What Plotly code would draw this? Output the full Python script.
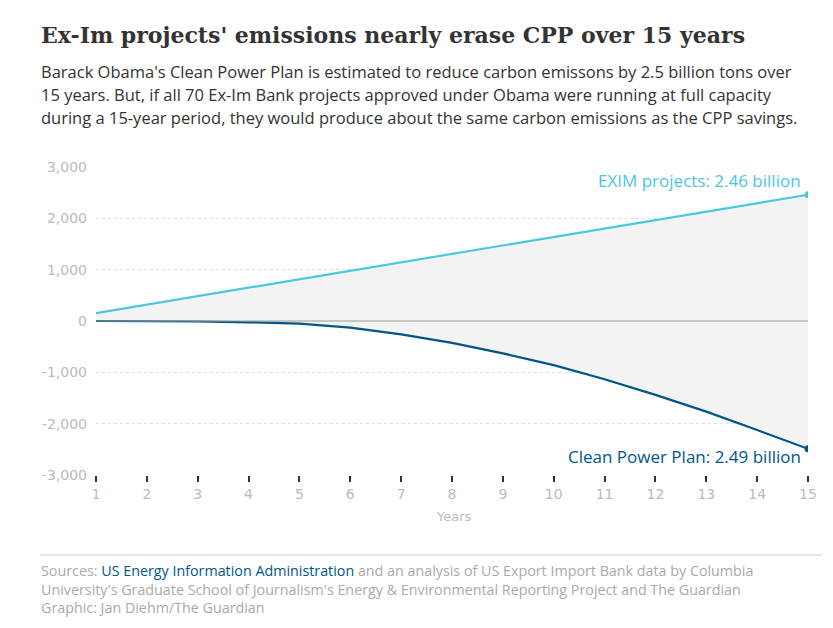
import plotly.graph_objects as go

years = list(range(1, 16))
exim = [155, 320, 485, 650, 815, 980, 1145, 1310, 1475, 1640, 1805, 1970, 2135, 2300, 2460]
cpp = [0, 0, -10, -25, -50, -130, -260, -425, -630, -860, -1135, -1440, -1765, -2125, -2490]
y_ticks = [-3000, -2000, -1000, 0, 1000, 2000, 3000]
y_tick_text = ["-3,000", "-2,000", "-1,000", "0", "1,000", "2,000", "3,000"]

title = "Ex-Im projects' emissions nearly erase CPP over 15 years"
subtitle = [
    "Barack Obama's Clean Power Plan is estimated to reduce carbon emissons by 2.5 billion tons over",
    "15 years. But, if all 70 Ex-Im Bank projects approved under Obama were running at full capacity",
    "during a 15-year period, they would produce about the same carbon emissions as the CPP savings.",
]
footer = [
    "Sources: <span style='color:#005689'>US Energy Information Administration</span> and an analysis of US Export Import Bank data by Columbia",
    "University's Graduate School of Journalism's Energy & Environmental Reporting Project and The Guardian",
    "Graphic: Jan Diehm/The Guardian",
]

W, H = 833, 628
OFF = 8  # page body margin
# plot area in reference (window) coordinates
PX0, PX1, PY0, PY1 = 96, 808, 167, 475
L = PX0 - OFF
T = PY0 - OFF
R = W - (PX1 - OFF)
B = H - (PY1 - OFF)
PW, PH = PX1 - PX0, PY1 - PY0

def px(x):
    return (x - PX0) / PW

def py(y):
    return (PY1 - y) / PH

EXIM_C = "#4bc6df"
CPP_C = "#005689"

fig = go.Figure()
fig.add_trace(go.Scatter(x=years, y=cpp, mode="lines", line=dict(color=CPP_C, width=2.2),
                         hoverinfo="skip", showlegend=False))
fig.add_trace(go.Scatter(x=years, y=exim, mode="lines", line=dict(color=EXIM_C, width=2.2),
                         fill="tonexty", fillcolor="#f3f3f3", hoverinfo="skip", showlegend=False))
fig.add_trace(go.Scatter(x=[years[-1]], y=[exim[-1]], mode="markers",
                         marker=dict(color=EXIM_C, size=7), hoverinfo="skip", showlegend=False))
fig.add_trace(go.Scatter(x=[years[-1]], y=[cpp[-1]], mode="markers",
                         marker=dict(color=CPP_C, size=7), hoverinfo="skip", showlegend=False))

fig.add_hline(y=0, line=dict(color="#999999", width=1), layer="above")

ann = []
ann.append(dict(text=title, x=px(39), y=py(35), xref="paper", yref="paper", xanchor="left",
                yanchor="middle", showarrow=False,
                font=dict(family="DejaVu Serif", size=22, color="#333333", weight="bold")))
for i, line in enumerate(subtitle):
    ann.append(dict(text=line, x=px(39), y=py(72 + 23 * i), xref="paper", yref="paper",
                    xanchor="left", yanchor="middle", showarrow=False,
                    font=dict(family="Open Sans", size=16.5, color="#333333")))
ann.append(dict(text="<br>".join(footer), x=px(39), y=py(589), xref="paper", yref="paper",
                xanchor="left", yanchor="middle", align="left", showarrow=False,
                font=dict(family="Open Sans", size=14.3, color="#aaaaaa")))
ann.append(dict(text="EXIM projects: 2.46 billion", x=px(803), y=py(180), xref="paper", yref="paper",
                xanchor="right", yanchor="middle", showarrow=False,
                font=dict(family="Open Sans", size=17, color=EXIM_C)))
ann.append(dict(text="Clean Power Plan: 2.49 billion", x=px(803), y=py(456), xref="paper", yref="paper",
                xanchor="right", yanchor="middle", showarrow=False,
                font=dict(family="Open Sans", size=17, color=CPP_C)))
ann.append(dict(text="Years", x=px(454), y=py(517), xref="paper", yref="paper",
                xanchor="center", yanchor="middle", showarrow=False,
                font=dict(family="DejaVu Sans", size=13, color="#bbbbbb")))

shapes = [
    dict(type="line", xref="paper", yref="paper", x0=px(40), x1=px(822), y0=py(13), y1=py(13),
         line=dict(color=EXIM_C, width=2)),
    dict(type="line", xref="paper", yref="paper", x0=px(40), x1=px(822), y0=py(555), y1=py(555),
         line=dict(color="#cccccc", width=1)),
]

fig.update_layout(
    width=W, height=H,
    margin=dict(l=L, r=R, t=T, b=B, pad=0),
    paper_bgcolor="white", plot_bgcolor="white",
    annotations=ann, shapes=shapes,
    xaxis=dict(range=[1, 15], tickmode="array", tickvals=years, ticks="outside", ticklen=6,
               tickwidth=1.5, tickcolor="#333333", showgrid=False, zeroline=False, showline=False,
               tickfont=dict(family="DejaVu Sans", size=14, color="#bbbbbb"), fixedrange=True),
    yaxis=dict(range=[-3000, 3000], tickmode="array", tickvals=y_ticks, ticktext=y_tick_text,
               showgrid=True, gridcolor="#dddddd", griddash="dot", gridwidth=1, zeroline=False,
               showline=False, ticks="", ticklabelstandoff=8,
               tickfont=dict(family="DejaVu Sans", size=14, color="#bbbbbb"), fixedrange=True),
)

fig.write_html("out.html")
